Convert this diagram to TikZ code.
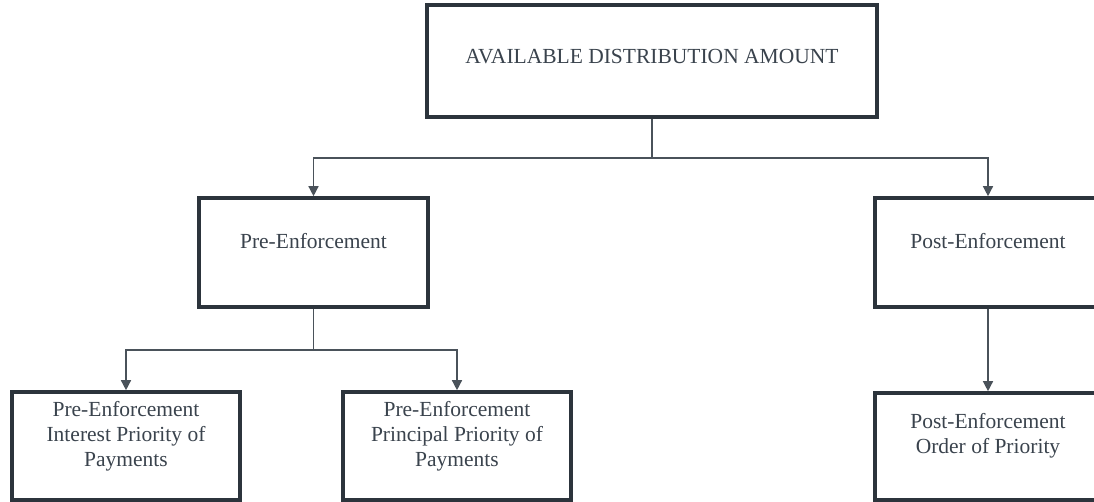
\documentclass[tikz,border=0pt]{standalone}
\usepackage{fontspec}
\setmainfont{Liberation Serif}
\usetikzlibrary{arrows.meta}
\definecolor{boxline}{HTML}{2C343C}
\definecolor{linkline}{HTML}{4A525A}
\definecolor{labeltext}{HTML}{3A434D}
\begin{document}
\begin{tikzpicture}[x=1pt,y=-1pt,
  box/.style={draw=boxline, line width=3.6pt, fill=white, inner sep=0pt},
  label/.style={text=labeltext, align=center, inner sep=0pt,
    font=\fontsize{21.5}{25}\selectfont},
  conn/.style={draw=linkline, line width=1.4pt},
  arr/.style={conn, -{Triangle[width=10pt,length=10pt]}}]
  \useasboundingbox[fill=white] (0,0) rectangle (1094,502);

  % boxes
  \node[box, minimum width=450pt, minimum height=112pt] (avail) at (652,61) {};
  \node[box, minimum width=229pt, minimum height=109pt] (pre)  at (313.5,252.5) {};
  \node[box, minimum width=226pt, minimum height=109pt] (post) at (988,252.5) {};
  \node[box, minimum width=228pt, minimum height=108pt] (preint)  at (126,446) {};
  \node[box, minimum width=228pt, minimum height=108pt] (preprin) at (457,446) {};
  \node[box, minimum width=226pt, minimum height=107pt] (postord) at (988,446.5) {};

  % labels
  \node[label] (tavail) at (652,56.5) {AVAILABLE DISTRIBUTION AMOUNT};
  \node[label] (tpre)   at (313.5,241.5) {Pre-Enforcement};
  \node[label] (tpost)  at (988,241.5) {Post-Enforcement};
  \node[label] (tpreint)  at (126,436) {Pre-Enforcement\\Interest Priority of\\Payments};
  \node[label] (tpreprin) at (457,436) {Pre-Enforcement\\Principal Priority of\\Payments};
  \node[label] (tpostord) at (988,436) {Post-Enforcement\\Order of Priority};

  % connectors
  \coordinate (splitA) at (652,158);
  \coordinate (splitB) at (313.5,350);
  \draw[conn] (avail.south) -- (splitA);
  \draw[arr] (splitA) -| (pre.north);
  \draw[arr] (splitA) -| (post.north);
  \draw[conn] (pre.south) -- (splitB);
  \draw[arr] (splitB) -| (preint.north);
  \draw[arr] (splitB) -| (preprin.north);
  \draw[arr] (post.south) -- (postord.north);
\end{tikzpicture}
\end{document}
